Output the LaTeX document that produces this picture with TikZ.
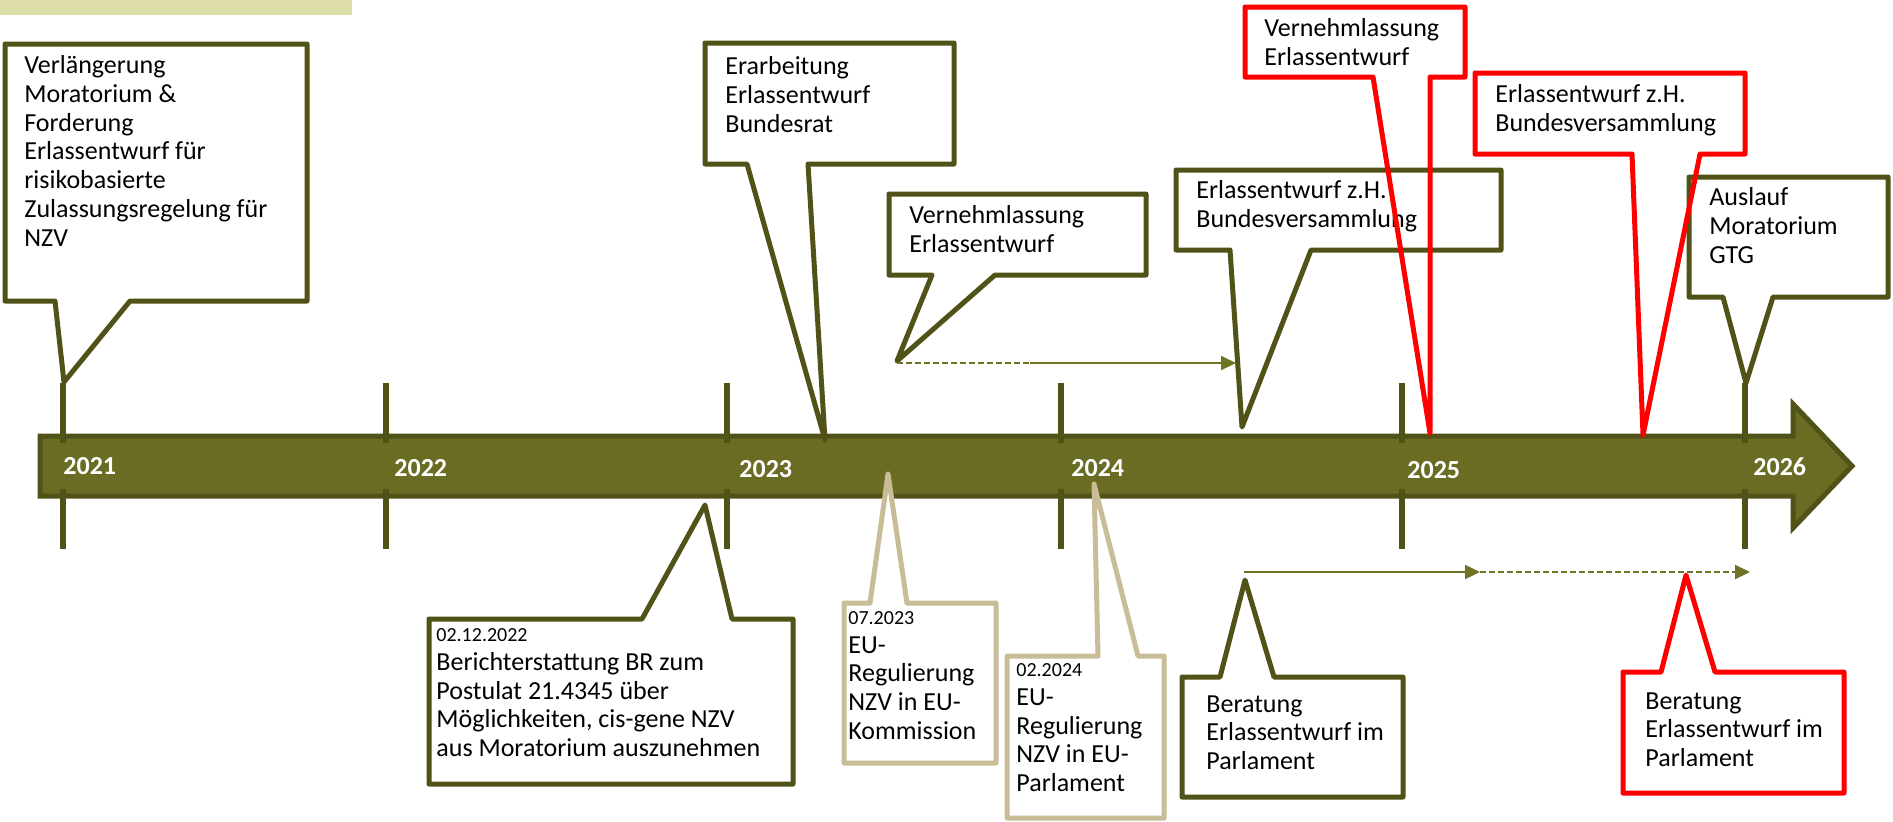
\documentclass[tikz,border=0pt]{standalone}
\usepackage{fontspec}
\setmainfont{Carlito}
\usetikzlibrary{arrows.meta}
\definecolor{olivedark}{RGB}{80,82,24}
\definecolor{olivefill}{RGB}{107,108,36}
\definecolor{olivethin}{RGB}{112,114,38}
\definecolor{tanline}{RGB}{200,189,150}
\definecolor{lightbar}{RGB}{222,222,168}
\definecolor{redline}{RGB}{255,0,0}
\tikzset{
  bubble/.style={draw=#1,line width=2.5pt,line join=round,fill=white},
  redbubble/.style={draw=redline,line width=2.5pt,line join=round},
  txt/.style={anchor=north west,inner sep=0pt,align=left,font=\fontsize{13}{14.4}\selectfont,execute at begin node=\strut},
  yr/.style={anchor=base west,inner sep=0pt,text=white,font=\fontsize{13}{15}\selectfont\bfseries},
  tick/.style={olivedark,line width=3pt},
  flow/.style={olivethin,line width=1pt,-{Triangle[length=7.5pt,width=7pt]}},
  flowdash/.style={olivethin,line width=1pt,dash pattern=on 3pt off 1.5pt}
}
\newcommand{\datefont}{\fontsize{10}{12}\selectfont}
\begin{document}
\begin{tikzpicture}[x=0.5pt,y=-0.5pt]
\useasboundingbox (0,0) rectangle (1893,821);
\fill[lightbar] (0,0) rectangle (352,15);
\draw[olivedark,fill=olivefill,line width=2.5pt] (40,436) -- (1793,436) -- (1793,404) -- (1852,466) -- (1793,528) -- (1793,496) -- (40,496) -- cycle;
\foreach \x in {63,386,727,1061,1402,1745} {
  \draw[tick] (\x,383) -- (\x,443);
  \draw[tick] (\x,489) -- (\x,549);
}
\node[yr] (y21) at (63,474) {2021};
\node[yr] (y22) at (394,476) {2022};
\node[yr] (y23) at (739,477) {2023};
\node[yr] (y24) at (1071,476) {2024};
\node[yr] (y25) at (1407,478) {2025};
\node[yr] (y26) at (1753,475) {2026};

\draw[bubble=olivedark] (5,44) -- (307,44) -- (307,301) -- (130,301) -- (64,382) -- (55,301) -- (5,301) -- cycle;
\draw[bubble=olivedark] (705,43) -- (954,43) -- (954,164) -- (808,164) -- (825,440) -- (747,164) -- (705,164) -- cycle;
\draw[bubble=olivedark] (889,194) -- (1146,194) -- (1146,275) -- (995,275) -- (897,361) -- (932,275) -- (889,275) -- cycle;
\draw[bubble=olivedark] (1176,170) -- (1501,170) -- (1501,250) -- (1311,250) -- (1242,427) -- (1230,250) -- (1176,250) -- cycle;
\draw[bubble=olivedark] (1689,177) -- (1888,177) -- (1888,297) -- (1773,297) -- (1746,383) -- (1723,297) -- (1689,297) -- cycle;
\draw[bubble=olivedark] (429,619) -- (642,619) -- (705,505) -- (732,619) -- (793,619) -- (793,784) -- (429,784) -- cycle;
\draw[bubble=tanline] (844,603) -- (870,603) -- (888,474) -- (907,603) -- (996,603) -- (996,763) -- (844,763) -- cycle;
\draw[bubble=tanline] (1007,656) -- (1098,656) -- (1094,484) -- (1138,656) -- (1164,656) -- (1164,818) -- (1007,818) -- cycle;
\draw[bubble=olivedark] (1182,677) -- (1220,677) -- (1245,580) -- (1274,677) -- (1403,677) -- (1403,797) -- (1182,797) -- cycle;

\node[txt] (verl) at (24,55) {Verlängerung\\Moratorium \&\\Forderung\\Erlassentwurf für\\risikobasierte\\Zulassungsregelung für\\NZV};
\node[txt] (erarb) at (725,56) {Erarbeitung\\Erlassentwurf\\Bundesrat};
\node[txt] (vern23) at (909,205) {Vernehmlassung\\Erlassentwurf};
\node[txt] (bv24) at (1196,180) {Erlassentwurf z.H.\\Bundesversammlung};
\node[txt] (auslauf) at (1709,187) {Auslauf\\Moratorium\\GTG};
\node[txt] (bericht) at (436,628) {{\datefont 02.12.2022}\\Berichterstattung BR zum\\Postulat 21.4345 über\\Möglichkeiten, cis-gene NZV\\aus Moratorium auszunehmen};
\node[txt] (eukom) at (848,611) {{\datefont 07.2023}\\EU-\\Regulierung\\NZV in EU-\\Kommission};
\node[txt] (eupar) at (1016,663) {{\datefont 02.2024}\\EU-\\Regulierung\\NZV in EU-\\Parlament};
\node[txt] (ber24) at (1206,695) {Beratung\\Erlassentwurf im\\Parlament};

\draw[redbubble] (1245,7) -- (1465,7) -- (1465,77) -- (1430,77) -- (1430,433) -- (1373,77) -- (1245,77) -- cycle;
\draw[redbubble] (1475,73) -- (1745,73) -- (1745,154) -- (1700,154) -- (1643,435) -- (1632,154) -- (1475,154) -- cycle;
\draw[redbubble] (1623,672) -- (1661,672) -- (1686,575) -- (1715,672) -- (1844,672) -- (1844,793) -- (1623,793) -- cycle;
\node[txt] (vern25) at (1264,18) {Vernehmlassung\\Erlassentwurf};
\node[txt] (bv25) at (1495,84) {Erlassentwurf z.H.\\Bundesversammlung};
\node[txt] (ber25) at (1645,692) {Beratung\\Erlassentwurf im\\Parlament};

\coordinate (vs) at (897,363);
\coordinate (vm) at (1030,363);
\coordinate (ve) at (1236,363);
\draw[flowdash] (vs) -- (vm);
\draw[flow] (vm) -- (ve);
\coordinate (bs) at (1244,572);
\coordinate (bm) at (1480,572);
\coordinate (be) at (1750,572);
\draw[flow] (bs) -- (bm);
\draw[flowdash,-{Triangle[length=7.5pt,width=7pt]}] (bm) -- (be);
\end{tikzpicture}
\end{document}
